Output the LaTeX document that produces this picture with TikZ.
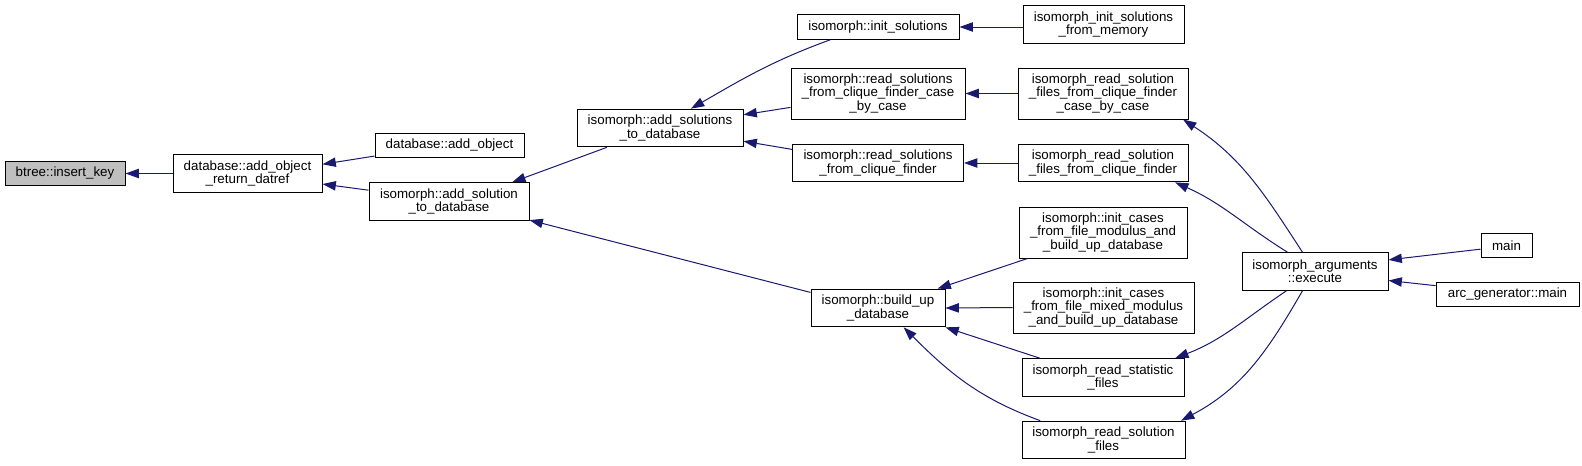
\documentclass[tikz,border=0pt]{standalone}
\usepackage{fontspec}
\setmainfont{Liberation Sans}
\usetikzlibrary{arrows.meta}
\definecolor{edgeblue}{RGB}{25,25,112}
\begin{document}
\begin{tikzpicture}[x=0.75pt, y=0.75pt,
  fn/.style={draw=black, line width=0.75pt, fill=white, align=center, inner sep=1pt,
    font=\fontsize{10}{10}\selectfont},
  onerow/.style={fn, minimum height=18.5pt},
  tworow/.style={fn, minimum height=28.25pt},
  threerow/.style={fn, minimum height=38.25pt},
  call/.style={draw=edgeblue, line width=0.75pt, -{Triangle[length=10pt,width=7pt]}}]
\useasboundingbox (0,0) rectangle (1582,-465);
\node[onerow, minimum width=90pt, fill=black!25] (insertkey) at (65,-173.5) {btree::insert\_key};
\node[tworow, minimum width=111.75pt] (addobjret) at (247.5,-173.5) {database::add\_object\\\_return\_datref};
\node[onerow, minimum width=111.75pt] (addobj) at (449.5,-145.5) {database::add\_object};
\node[tworow, minimum width=120pt] (addsol) at (449,-201.5) {isomorph::add\_solution\\\_to\_database};
\node[tworow, minimum width=124.5pt] (addsols) at (660,-128) {isomorph::add\_solutions\\\_to\_database};
\node[onerow, minimum width=121.5pt] (initsols) at (878,-27) {isomorph::init\_solutions};
\node[threerow, minimum width=130.5pt] (readcase) at (878,-93.5) {isomorph::read\_solutions\\\_from\_clique\_finder\_case\\\_by\_case};
\node[tworow, minimum width=128.25pt] (readclique) at (878,-163) {isomorph::read\_solutions\\\_from\_clique\_finder};
\node[tworow, minimum width=100.5pt] (buildup) at (878,-308) {isomorph::build\_up\\\_database};
\node[tworow, minimum width=120.75pt] (initmem) at (1103.5,-24.5) {isomorph\_init\_solutions\\\_from\_memory};
\node[threerow, minimum width=127.5pt] (filescase) at (1103,-93.5) {isomorph\_read\_solution\\\_files\_from\_clique\_finder\\\_case\_by\_case};
\node[tworow, minimum width=127.5pt] (filesclique) at (1103,-163) {isomorph\_read\_solution\\\_files\_from\_clique\_finder};
\node[threerow, minimum width=126pt] (casesmod) at (1103,-232.5) {isomorph::init\_cases\\\_from\_file\_modulus\_and\\\_build\_up\_database};
\node[threerow, minimum width=135.75pt] (casesmixed) at (1103.5,-307.5) {isomorph::init\_cases\\\_from\_file\_mixed\_modulus\\\_and\_build\_up\_database};
\node[tworow, minimum width=121.5pt] (statfiles) at (1103,-377.5) {isomorph\_read\_statistic\\\_files};
\node[tworow, minimum width=122.25pt] (solfiles) at (1103.5,-440) {isomorph\_read\_solution\\\_files};
\node[tworow, minimum width=109.5pt] (execute) at (1315,-271.5) {isomorph\_arguments\\::execute};
\node[onerow, minimum width=38.25pt] (main) at (1506.5,-245.5) {main};
\node[onerow, minimum width=107.25pt] (arcmain) at (1507.5,-294.5) {arc\_generator::main};
\draw[call] (addobjret.west) -- (insertkey.east);
\draw[call] (addobj.188) -- (addobjret.7);
\draw[call] (addsol.172) -- (addobjret.-8);
\draw[call] (addsols.200) -- (addsol.17);
\draw[call] (buildup.167) -- (addsol.-13);
\draw[call] (initsols.195) to[out=200,in=30] (addsols.32);
\draw[call] (readcase.189) -- (addsols.9);
\draw[call] (readclique.171) -- (addsols.-9);
\draw[call] (initmem.west |- initsols) -- (initsols.east);
\draw[call] (filescase.west) -- (readcase.east);
\draw[call] (filesclique.west) -- (readclique.east);
\draw[call] (casesmod.199) -- (buildup.18);
\draw[call] (casesmixed.west) -- (buildup.east);
\draw[call] (statfiles.163) -- (buildup.-16);
\draw[call] (solfiles.163) to[out=160,in=-45] (buildup.-37);
\draw[call] (execute.123) to[out=123,in=-33] (filescase.-18);
\draw[call] (execute.145) to[out=148,in=-24] (filesclique.-15);
\draw[call] (execute.214) to[out=214,in=21] (statfiles.15);
\draw[call] (execute.237) to[out=240,in=28] (solfiles.14);
\draw[call] (main.188) -- (execute.9);
\draw[call] (arcmain.173) -- (execute.-7);
\end{tikzpicture}
\end{document}
